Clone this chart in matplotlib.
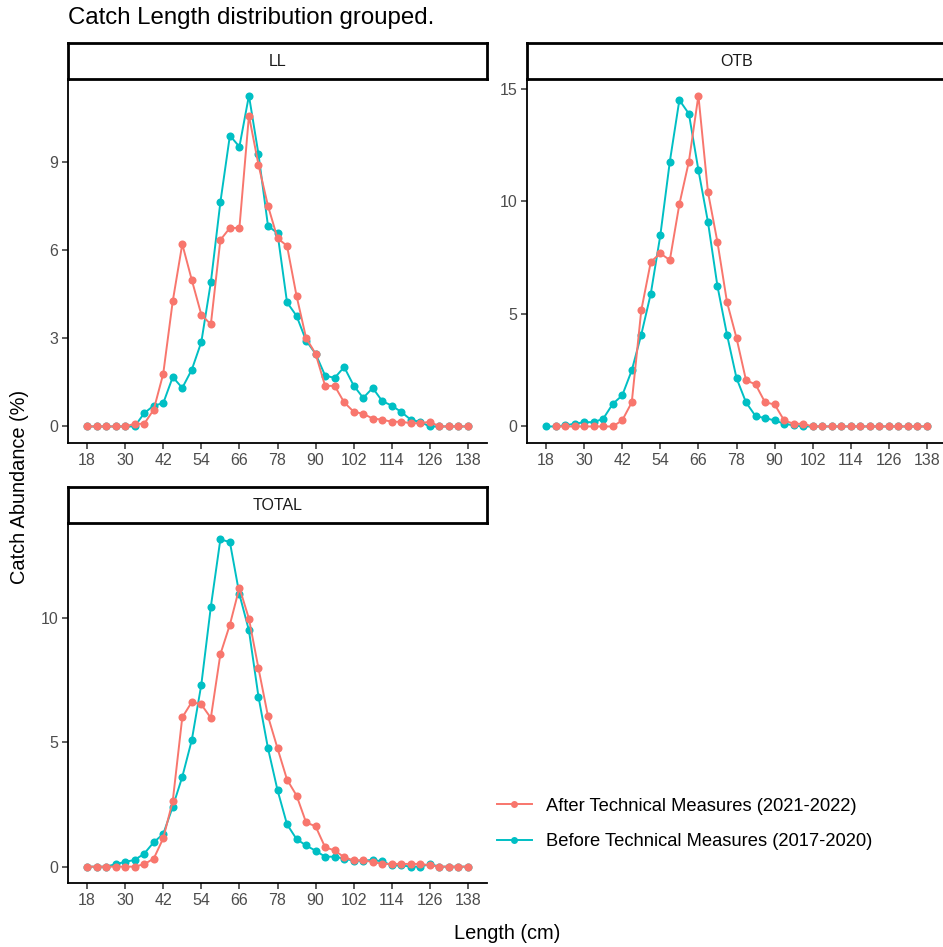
import numpy as np
import matplotlib
matplotlib.use("Agg")
import matplotlib.pyplot as plt
from matplotlib.lines import Line2D

plt.rcParams['font.family'] = ['Liberation Sans', 'DejaVu Sans']

# length classes (cm)
lengths = list(range(18, 139, 3))
x_ticks = list(range(18, 139, 12))

series_names = ["After Technical Measures (2021-2022)",
                "Before Technical Measures (2017-2020)"]
colors = ["#F8766D", "#00BFC4"]

# catch abundance (%) per length class
ll_after = [0, 0, 0, 0, 0, 0.09, 0.09, 0.57, 1.79, 4.26, 6.2, 4.98, 3.8, 3.47,
            6.34, 6.75, 6.75, 10.57, 8.9, 7.5, 6.4, 6.14, 4.44, 3.01, 2.47,
            1.38, 1.38, 0.82, 0.5, 0.43, 0.27, 0.23, 0.16, 0.16, 0.11, 0.11,
            0.16, 0, 0, 0, 0]
ll_before = [0, 0, 0, 0, 0, 0, 0.45, 0.71, 0.79, 1.68, 1.31, 1.93, 2.87, 4.9,
             7.62, 9.89, 9.51, 11.25, 9.26, 6.82, 6.57, 4.22, 3.76, 2.92, 2.47,
             1.73, 1.65, 2.02, 1.39, 0.97, 1.31, 0.86, 0.71, 0.49, 0.23, 0.15,
             0, 0, 0, 0, 0]

otb_after = [np.nan, 0, 0, 0, 0, 0, 0, 0, 0.27, 1.07, 5.16, 7.31, 7.69, 7.39,
             9.87, 11.77, 14.7, 10.42, 8.19, 5.53, 3.93, 2.05, 1.87, 1.07, 0.98,
             0.27, 0.12, 0.12, 0, 0, 0, 0, 0, 0, 0, 0, 0, 0, 0, 0, 0]
otb_before = [0, 0, 0.05, 0.12, 0.19, 0.19, 0.34, 1.0, 1.38, 2.49, 4.08, 5.9,
              8.49, 11.77, 14.5, 13.89, 11.39, 9.09, 6.23, 4.08, 2.15, 1.07,
              0.46, 0.37, 0.27, 0.12, 0.05, 0, 0, 0, 0, 0, 0, 0, 0, 0, 0, 0,
              0, 0, 0]

total_after = [0, 0, 0, 0, 0, 0, 0.1, 0.32, 1.14, 2.64, 6.0, 6.62, 6.52, 5.98,
               8.54, 9.73, 11.22, 9.97, 7.98, 6.05, 4.76, 3.5, 2.86, 1.78, 1.62,
               0.78, 0.65, 0.38, 0.25, 0.25, 0.19, 0.11, 0.11, 0.11, 0.11, 0.11,
               0.05, 0, 0, 0, 0]
total_before = [0, 0, 0, 0.1, 0.19, 0.27, 0.52, 0.98, 1.31, 2.41, 3.61, 5.09,
                7.32, 10.45, 13.16, 13.05, 10.95, 9.5, 6.84, 4.76, 3.08, 1.7,
                1.11, 0.85, 0.64, 0.4, 0.4, 0.32, 0.24, 0.24, 0.27, 0.21, 0.05,
                0.05, 0, 0, 0.1, 0, 0, 0, 0]

panels = [("LL", ll_after, ll_before, [0, 3, 6, 9]),
          ("OTB", otb_after, otb_before, [0, 5, 10, 15]),
          ("TOTAL", total_after, total_before, [0, 5, 10])]

W, H = 943, 947
fig = plt.figure(figsize=(W / 100, H / 100), dpi=100)


def fbox(x0, y0, x1, y1):
    # pixel box (top-left origin) -> figure fraction rect
    return [x0 / W, 1 - y1 / H, (x1 - x0) / W, (y1 - y0) / H]


boxes = [(68, 79, 487, 443), (527, 79, 946, 443), (68, 523, 487, 883)]
strip_h = 36

tick_col = "#4D4D4D"
for (name, after, before, yt), (x0, y0, x1, y1) in zip(panels, boxes):
    ax = fig.add_axes(fbox(x0, y0, x1, y1))
    for vals, col, z in [(before, colors[1], 2), (after, colors[0], 3)]:
        ax.plot(lengths, vals, color=col, lw=1.4, marker='o', ms=5.8,
                mew=0, zorder=z)
    allv = np.array(after + before, dtype=float)
    lo, hi = np.nanmin(allv), np.nanmax(allv)
    pad = 0.05 * (hi - lo)
    ax.set_ylim(lo - pad, hi + pad)
    ax.set_xlim(12, 144)
    ax.set_xticks(x_ticks)
    ax.set_yticks(yt)
    for s in ["top", "right"]:
        ax.spines[s].set_visible(False)
    for s in ["left", "bottom"]:
        ax.spines[s].set_linewidth(1.3)
        ax.spines[s].set_color("black")
    ax.tick_params(length=4, width=1.1, color="#333333", labelcolor=tick_col,
                   labelsize=11.5, pad=3)

    # facet strip
    sax = fig.add_axes(fbox(x0, y0 - strip_h, x1, y0))
    sax.set_xticks([])
    sax.set_yticks([])
    for s in sax.spines.values():
        s.set_linewidth(2)
        s.set_color("black")
    sax.text(0.5, 0.5, name, ha="center", va="center", fontsize=11.5,
             color="#1A1A1A", transform=sax.transAxes)

fig.text(68 / W, 1 - 18 / H, "Catch Length distribution grouped.",
         fontsize=17.3, ha="left", va="center")
fig.text(20 / W, 1 - 487 / H, "Catch Abundance (%)", rotation=90,
         fontsize=14.4, ha="center", va="center")
fig.text(507 / W, 1 - 933 / H, "Length (cm)", fontsize=14.4,
         ha="center", va="center")

handles = [Line2D([], [], color=c, lw=1.4, marker='o', ms=5, mew=0)
           for c in colors]
fig.legend(handles, series_names, loc="center left",
           bbox_to_anchor=(497 / W, 1 - 824 / H), frameon=False,
           fontsize=13.2, handlelength=1.9, handletextpad=0.75,
           labelspacing=1.0, borderaxespad=0, borderpad=0)

fig.savefig("out.png", dpi=100)
